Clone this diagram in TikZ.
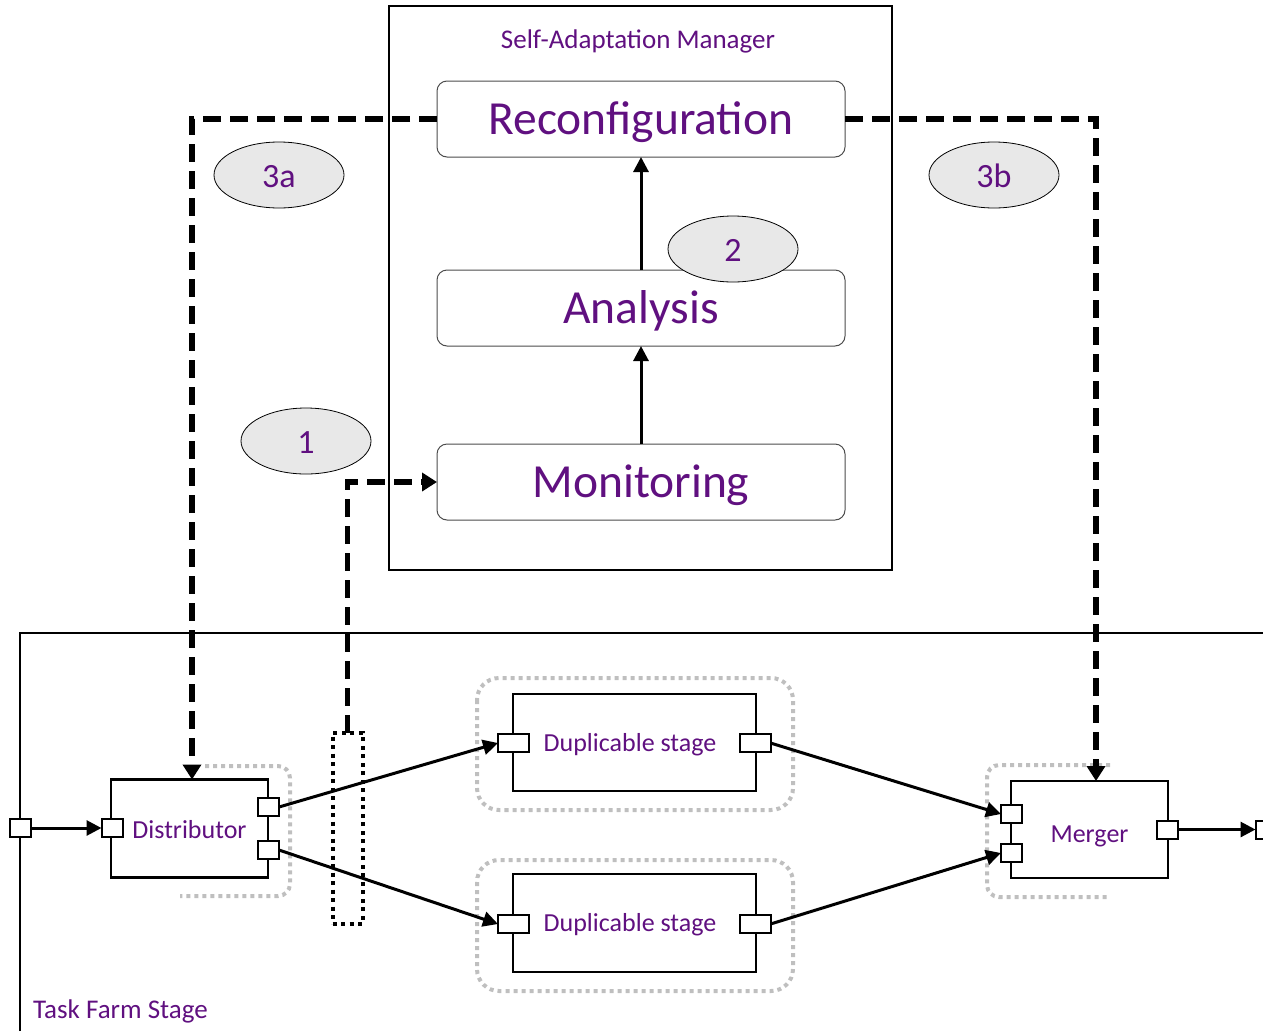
\documentclass[tikz,border=0pt]{standalone}
\usepackage{fontspec}
\setmainfont{Carlito}
\usetikzlibrary{arrows.meta,shapes.geometric,calc}
\definecolor{labelpurple}{RGB}{96,16,128}
\definecolor{calloutfill}{RGB}{232,232,232}
\definecolor{groupgray}{RGB}{191,191,191}

\begin{document}
\begin{tikzpicture}[x=1pt,y=-1pt,
  label26/.style={text=labelpurple,font=\fontsize{26}{30}\selectfont,inner sep=0pt},
  title27/.style={text=labelpurple,font=\fontsize{27}{31}\selectfont,inner sep=0pt},
  box/.style={draw,line width=2.2pt,fill=white,inner sep=0pt,outer sep=0pt,label26,
    text height=19pt,text depth=0pt},
  phase/.style={draw=black!70,line width=1pt,rounded corners=10pt,fill=white,
    minimum width=408pt,minimum height=76pt,inner sep=0pt,outer sep=0pt,
    text=labelpurple,font=\fontsize{47.5}{52}\selectfont,
    text height=30pt,text depth=0pt},
  port/.style={draw,line width=2pt,fill=white,minimum width=21pt,minimum height=18pt,
    inner sep=0pt,outer sep=0pt},
  wideport/.style={port,minimum width=31pt},
  callout/.style={ellipse,draw,line width=0.8pt,fill=calloutfill,
    minimum width=130pt,minimum height=66pt,inner sep=0pt,
    text=labelpurple,font=\fontsize{34}{38}\selectfont,
    text height=24pt,text depth=0pt},
  dataflow/.style={line width=3pt,-{Triangle[length=15pt,width=15pt]}},
  ctrlflow/.style={line width=5.5pt,dash pattern=on 18pt off 9pt,
    -{Triangle[length=15pt,width=18pt]}},
  groupline/.style={draw=groupgray,line width=4pt,dash pattern=on 4pt off 4pt},
  probebox/.style={draw,line width=4pt,dash pattern=on 4pt off 4.5pt,
    minimum width=30pt,minimum height=191pt,inner sep=0pt,outer sep=0pt}]
\useasboundingbox (0,0) rectangle (1263,1031);

% self-adaptation manager and its three phases
\node[draw,line width=2pt,minimum width=503pt,minimum height=564pt,inner sep=0pt]
  (manager) at (640.5,288) {};
\node[title27,anchor=base] (mgrtitle) at (638,48) {Self-Adaptation Manager};
\node[phase] (reconf) at (641,119) {Reconfiguration};
\node[phase] (analysis) at (641,308) {Analysis};
\node[phase] (monitor) at (641,482) {Monitoring};
\draw[dataflow] (monitor.north) -- (analysis.south);
\draw[dataflow] (analysis.north) -- (reconf.south);

% task farm stage boundary
\draw[line width=2.2pt] (20,1031) -- (20,633) -- (1263,633);
\node[title27,anchor=base west] (farmtitle) at (33,1018) {Task Farm Stage};

% grouping outlines
\draw[groupline,rounded corners=12pt] (205,766) -- (290,766) -- (290,896) -- (180,896);
\draw[groupline,rounded corners=12pt] (1110,765) -- (987,765) -- (987,897) -- (1110,897);
\draw[groupline,rounded corners=22pt] (477,678) rectangle (793,810);
\draw[groupline,rounded corners=22pt] (477,860) rectangle (793,991);

% farm components
\node[box,minimum width=157pt,minimum height=98pt] (dist) at (189.5,828.5) {Distributor};
\node[box,minimum width=157pt,minimum height=97pt,text height=26pt] (merger) at (1089.5,829.5) {Merger};
\node[box,minimum width=243pt,minimum height=97pt,text height=17pt] (stageA) at (634.5,742.5) {Duplicable stage\hspace*{9pt}};
\node[box,minimum width=243pt,minimum height=98pt,text height=17pt] (stageB) at (634.5,923) {Duplicable stage\hspace*{9pt}};

% ports
\node[port] (farmin) at (20,828) {};
\node[port] (distin) at (112,828) {};
\node[port] (distoutA) at (268.5,807) {};
\node[port] (distoutB) at (268.5,850) {};
\node[wideport] (stageAin) at (513.5,743) {};
\node[wideport] (stageAout) at (755,743) {};
\node[wideport] (stageBin) at (513.5,924) {};
\node[wideport] (stageBout) at (755,924) {};
\node[port] (mergerinA) at (1011.5,814) {};
\node[port] (mergerinB) at (1011.5,853) {};
\node[port] (mergerout) at (1167.5,829.5) {};
\node[port] (farmout) at (1266,829.5) {};

% monitoring probe
\node[probebox] (probe) at (347.5,828) {};

% data flow
\draw[dataflow] (farmin.east) -- (distin.west);
\draw[dataflow] (distoutA.east) -- (stageAin.west);
\draw[dataflow] (distoutB.east) -- (stageBin.west);
\draw[dataflow] (stageAout.east) -- (mergerinA.west);
\draw[dataflow] (stageBout.east) -- (mergerinB.west);
\draw[dataflow] (mergerout.east) -- (farmout.west);

% control flow of the adaptation loop
\draw[ctrlflow] (probe.north) |- (monitor.west);
\draw[ctrlflow] (reconf.west) -| ([xshift=2.5pt]dist.north);
\draw[ctrlflow] (reconf.east) -| ([xshift=6.5pt]merger.north);

% step labels
\node[callout] (stepone) at (306,441) {1};
\node[callout] (steptwo) at (733,249) {2};
\node[callout] (stepthreea) at (279,175) {3a};
\node[callout] (stepthreeb) at (994,175) {3b};
\end{tikzpicture}
\end{document}
